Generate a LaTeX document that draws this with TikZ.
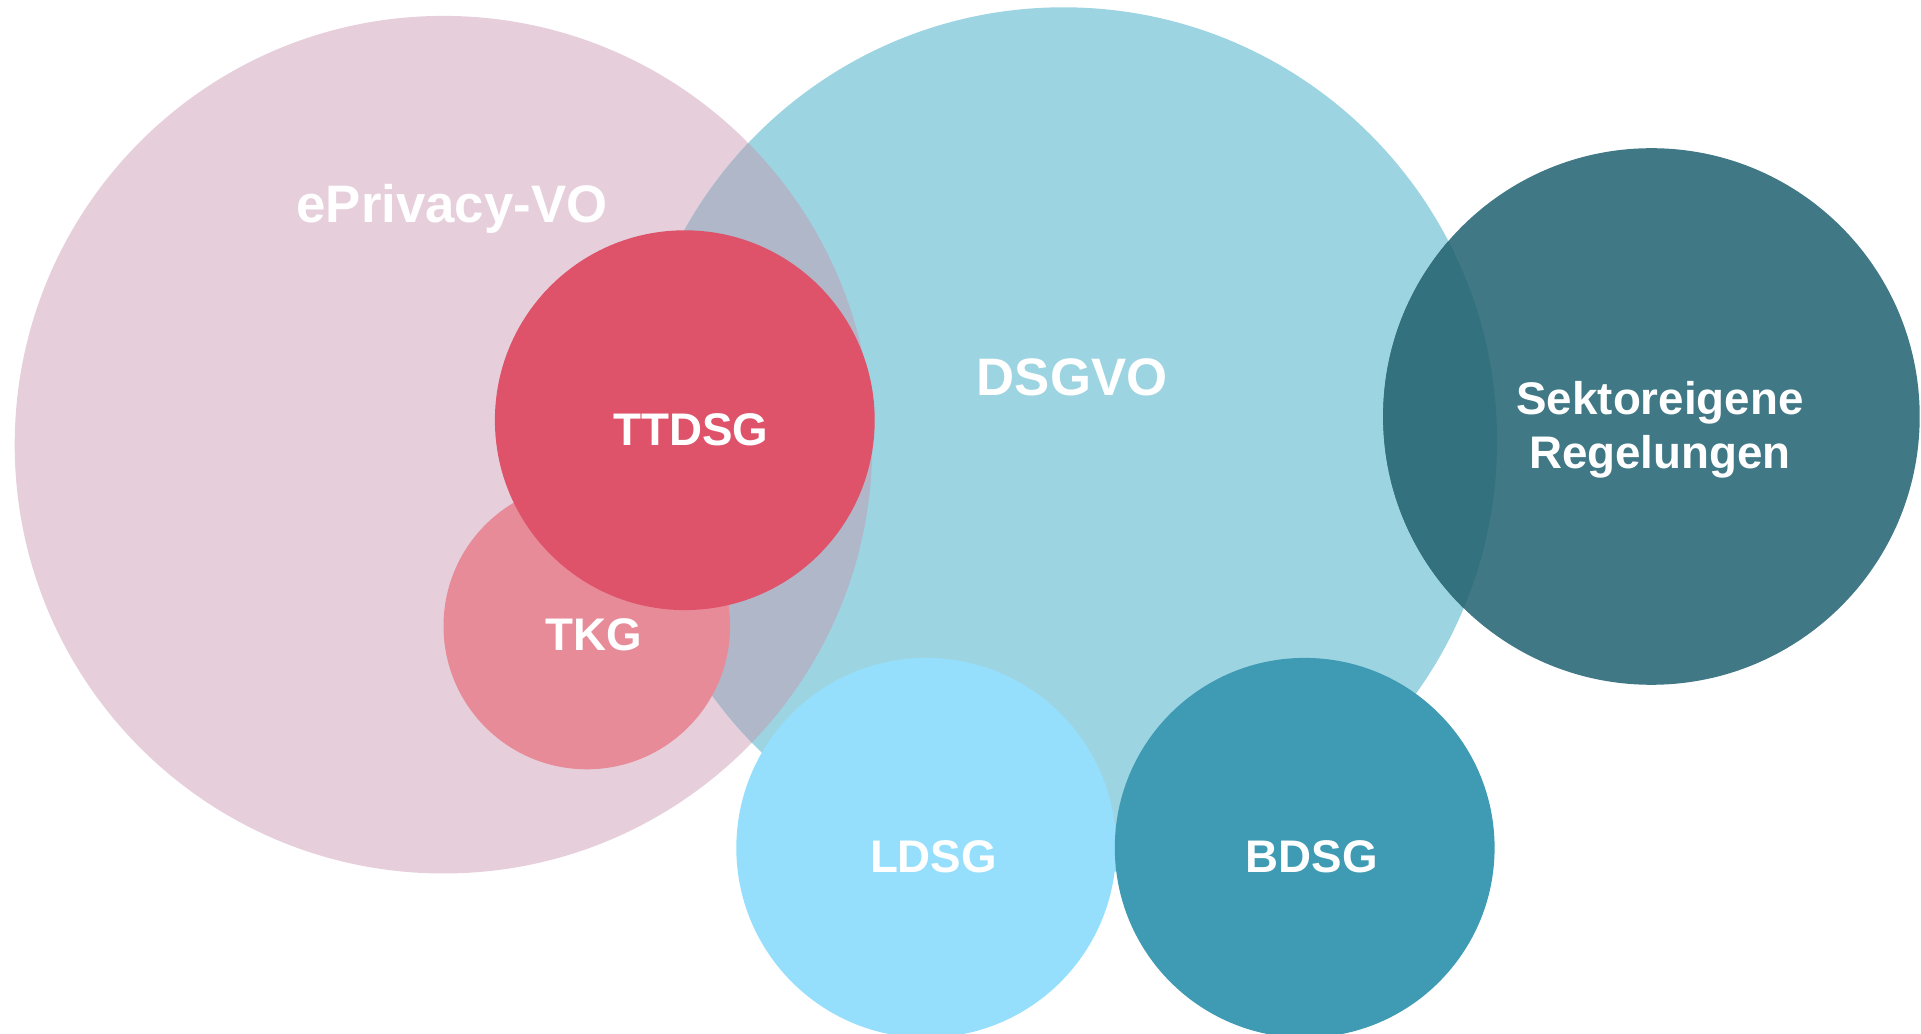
\documentclass[tikz,border=0pt]{standalone}
\usepackage{fontspec}
\setmainfont{Liberation Sans}
\definecolor{eprivacy}{HTML}{E6CFDB}
\definecolor{dsgvo}{HTML}{9DD4E2}
\definecolor{mixlens}{HTML}{B0B7C9}
\definecolor{ttdsg}{HTML}{DE5369}
\definecolor{tkg}{HTML}{E88B99}
\definecolor{sektor}{HTML}{407886}
\definecolor{sektorlens}{HTML}{33717F}
\definecolor{ldsg}{HTML}{96DFFC}
\definecolor{bdsg}{HTML}{3F9BB3}
\tikzset{
  lawlabel/.style={text=white, inner sep=0pt, anchor=base,
    font=\bfseries\fontsize{13}{15.3}\selectfont},
  biglabel/.style={lawlabel, font=\bfseries\fontsize{15}{18}\selectfont},
}
\begin{document}
\begin{tikzpicture}[x=0.01cm, y=-0.01cm]
  \useasboundingbox (0,0) rectangle (1921,1034);
  \clip (0,0) rectangle (1921,1034);
  % large circles
  \fill[eprivacy] (443.5,444.7) circle[radius=428.8];
  \fill[dsgvo] (1063.4,441) circle[radius=433.7];
  \begin{scope}
    \clip (443.5,444.7) circle[radius=428.8];
    \fill[mixlens] (1063.4,441) circle[radius=433.7];
  \end{scope}
  \fill[sektor] (1651.4,416.5) circle[radius=268.3];
  \begin{scope}
    \clip (1063.4,441) circle[radius=433.7];
    \fill[sektorlens] (1651.4,416.5) circle[radius=268.3];
  \end{scope}
  % small circles
  \fill[tkg] (586.8,626) circle[radius=143.3];
  \fill[ttdsg] (684.8,420.2) circle[radius=189.9];
  \fill[ldsg] (926.2,847.8) circle[radius=189.9];
  \fill[bdsg] (1304.7,847.8) circle[radius=189.9];
  % labels
  \node[biglabel] (eprivacyvo) at (452,223) {ePrivacy-VO};
  \node[biglabel] (dsgvolabel) at (1072,395.7) {DSGVO};
  \node[lawlabel] (ttdsglabel) at (691,446) {TTDSG};
  \node[lawlabel] (tkglabel) at (594,650.5) {TKG};
  \node[lawlabel, anchor=center, align=center] (sektorlabel) at (1660,430) {Sektoreigene\\Regelungen};
  \node[lawlabel] (ldsglabel) at (933.5,872) {LDSG};
  \node[lawlabel] (bdsglabel) at (1312,872) {BDSG};
\end{tikzpicture}
\end{document}
